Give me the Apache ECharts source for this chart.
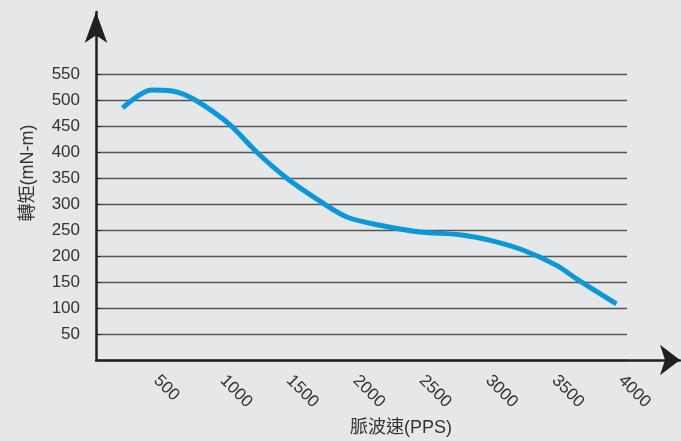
<!DOCTYPE html>
<html>
<head>
<meta charset="utf-8">
<script src="https://cdn.jsdelivr.net/npm/echarts@6/dist/echarts.min.js"></script>
<style>
    html, body { margin: 0; padding: 0; background: #e6e7e9; }
    #chart { width: 681px; height: 441px; }
</style>
</head>
<body>
<div id="chart"></div>
<script>
// pulse rate (PPS) vs torque (mN-m)
const pulseRate = [200, 420, 560, 670, 810, 1010, 1210, 1440, 1690, 1890, 2140, 2440, 2740, 2970, 3220, 3470, 3620, 3920]
const torque = [485, 519, 518, 510, 490, 452, 400, 349, 305, 275, 259, 246, 241, 230, 211, 182, 156, 108]

const xTicks = [0, 4000, 500]   // min, max, interval
const yTicks = [0, 550, 50]

const xName = '脈波速(PPS)'
const yName = '轉矩(mN-m)'

const font = '"Liberation Sans", Arial, "Noto Sans CJK TC", sans-serif'
const textColor = '#333'
const axisColor = '#231f20'

const chart = echarts.init(document.getElementById('chart'))

const hideZero = (v) => (v === 0 ? '' : String(v))

const option = {
    backgroundColor: '#e6e7e9',
    animation: false,
    grid: [
        // plotting area
        { left: 96, right: 54, top: 74, bottom: 81 },
        // frame with the arrow axes
        { left: 96, right: 1, top: 12, bottom: 81 }
    ],
    xAxis: [
        {
            gridIndex: 0,
            type: 'value',
            min: xTicks[0],
            max: xTicks[1],
            interval: xTicks[2],
            axisLine: { show: false },
            axisTick: { show: false },
            splitLine: { show: false },
            axisLabel: {
                rotate: -45,
                margin: 12,
                fontSize: 17,
                fontFamily: font,
                color: textColor,
                verticalAlign: 'top',
                formatter: hideZero
            }
        },
        {
            gridIndex: 1,
            type: 'value',
            min: 0,
            max: 1,
            axisLine: {
                show: true,
                symbol: ['none', 'arrow'],
                symbolSize: [23, 20],
                lineStyle: { color: axisColor, width: 2.5 }
            },
            axisTick: { show: false },
            axisLabel: { show: false },
            splitLine: { show: false }
        }
    ],
    yAxis: [
        {
            gridIndex: 0,
            type: 'value',
            min: yTicks[0],
            max: yTicks[1],
            interval: yTicks[2],
            axisLine: { show: false },
            axisTick: {
                show: true,
                inside: true,
                length: 4,
                lineStyle: { color: axisColor }
            },
            splitLine: {
                show: true,
                lineStyle: { color: '#555', width: 1.3 }
            },
            axisLabel: {
                margin: 16,
                fontSize: 17,
                fontFamily: font,
                color: textColor,
                formatter: hideZero
            }
        },
        {
            gridIndex: 1,
            type: 'value',
            min: 0,
            max: 1,
            axisLine: {
                show: true,
                symbol: ['none', 'arrow'],
                symbolSize: [17, 31],
                lineStyle: { color: axisColor, width: 2.5 }
            },
            axisTick: { show: false },
            axisLabel: { show: false },
            splitLine: { show: false }
        }
    ],
    graphic: [
        {
            type: 'text',
            x: 28,
            y: 173,
            rotation: Math.PI / 2,
            style: {
                text: yName,
                font: '18px ' + font,
                fill: textColor,
                align: 'center',
                verticalAlign: 'middle'
            }
        },
        {
            type: 'text',
            x: 401,
            y: 428,
            style: {
                text: xName,
                font: '18px ' + font,
                fill: textColor,
                align: 'center',
                verticalAlign: 'middle'
            }
        }
    ],
    series: [
        {
            type: 'line',
            xAxisIndex: 0,
            yAxisIndex: 0,
            data: pulseRate.map((x, i) => [x, torque[i]]),
            smooth: 0.3,
            showSymbol: false,
            lineStyle: { color: '#0a98d9', width: 5 }
        }
    ]
}

chart.setOption(option)
</script>
</body>
</html>
